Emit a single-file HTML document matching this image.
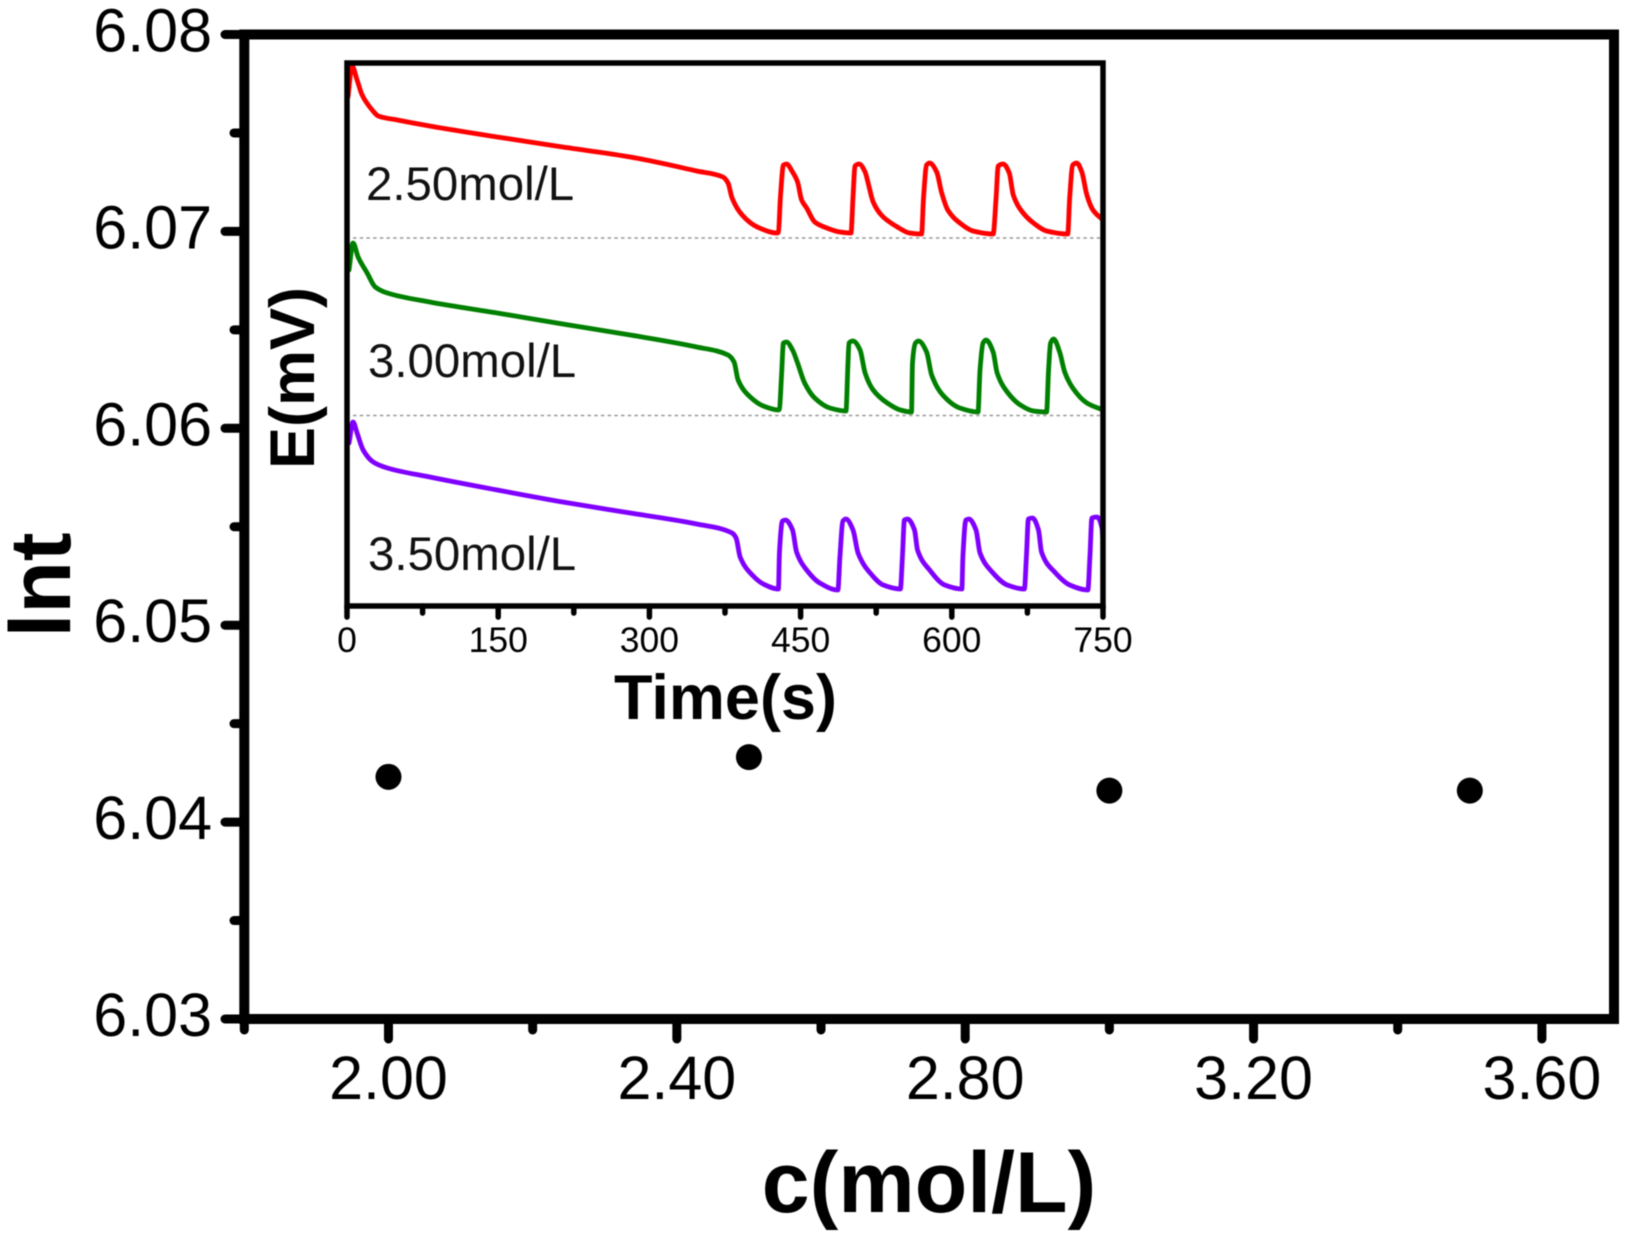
<!DOCTYPE html>
<html lang="en">
<head>
<meta charset="utf-8">
<title>lnt versus concentration with E(mV) inset</title>
<style>
html,body{margin:0;padding:0;background:#fff;}
svg{display:block;filter:blur(0.55px);}
text{font-family:"Liberation Sans",sans-serif;fill:#000;}
.tick-main{font-size:61px;}
.tick-inset{font-size:35.5px;}
.title-bold{font-weight:bold;}
.series-label{font-size:47.4px;fill:#111;}
</style>
</head>
<body>
<svg id="chart" xmlns="http://www.w3.org/2000/svg" width="1637" height="1242" viewBox="0 0 1637 1242">
  <rect x="0" y="0" width="1637" height="1242" fill="#fff"/>
  <g id="main-ticks"></g>
  <rect x="244.3" y="34.5" width="1369.7" height="984.5" fill="none" stroke="#000" stroke-width="10"/>
  <g id="main-points"></g>
  <g id="inset-ticks"></g>
  <g id="inset-lines"></g>
  <rect x="347" y="63" width="756" height="543" fill="none" stroke="#000" stroke-width="5.5"/>
  <line x1="353" y1="238" x2="1100" y2="238" stroke="#999" stroke-width="1.6" stroke-dasharray="3.5 3.2"/>
  <line x1="353" y1="415.5" x2="1100" y2="415.5" stroke="#999" stroke-width="1.6" stroke-dasharray="3.5 3.2"/>
  <text class="series-label" x="366" y="200">2.50mol/L</text>
  <text class="series-label" x="368" y="377">3.00mol/L</text>
  <text class="series-label" x="368" y="570">3.50mol/L</text>
  <text class="title-bold" x="725.5" y="719" font-size="63" text-anchor="middle">Time(s)</text>
  <text class="title-bold" transform="translate(314 378) rotate(-90)" font-size="63" text-anchor="middle">E(mV)</text>
  <text class="title-bold" x="929" y="1212" font-size="86" text-anchor="middle">c(mol/L)</text>
  <text class="title-bold" transform="translate(70 585) rotate(-90)" font-size="86" text-anchor="middle">lnt</text>
</svg>
<script>
// Main chart data
var concentrations = [2.0, 2.5, 3.0, 3.5];
var lntValues = [6.0423, 6.0433, 6.0416, 6.0416];
var mainXMajor = [2.0, 2.4, 2.8, 3.2, 3.6];
var mainXMinor = [1.8, 2.2, 2.6, 3.0, 3.4];
var mainYMajor = [6.03, 6.04, 6.05, 6.06, 6.07, 6.08];
var mainYMinor = [6.035, 6.045, 6.055, 6.065, 6.075];

// Inset data (time in seconds, E in relative mV)
var insetXMajor = [0, 150, 300, 450, 600, 750];
var insetXMinor = [75, 225, 375, 525, 675];
var redTime = [1,5,10,15,25,31,50,82,149,214,281,347,373,378,382,392,407,427,428,430,433,436,442,447,451,456,464,476,489,500,502,504,508,514,517,522,531,546,558,570,572,575,578,585,590,596,608,621,641,644,646,651,657,661,670,681,694,715,717,720,724,729,734,740,750];
var redE = [509,540,526,511,496,490,486,480,469,459,449,435,429,423,408,391,379,373,374,409,441,442,434,424,406,398,384,378,374,373,409,440,442,434,423,404,390,379,373,372,409,441,443,434,413,396,383,375,372,409,440,442,433,411,394,383,375,372,409,441,443,434,411,396,386];
var greenTime = [2,6,11,20,28,40,82,149,214,281,347,378,384,388,400,413,428,429,431,433,436,442,447,454,464,479,495,497,498,502,509,514,522,536,549,560,561,564,567,575,580,591,608,626,628,631,634,641,645,655,668,681,694,696,698,701,707,712,720,734,750];
var greenE = [336,363,349,333,319,313,304,293,282,271,259,251,244,226,209,200,196,197,229,263,264,256,243,223,208,198,195,243,263,265,256,233,216,203,196,194,243,263,265,254,231,211,198,194,236,263,266,254,233,214,201,195,194,236,263,267,254,234,218,203,196];
var purpleTime = [2,6,10,16,26,40,82,149,214,281,347,382,386,390,402,413,428,429,432,435,442,446,456,469,487,489,492,495,502,507,519,532,549,551,553,556,563,566,578,593,610,611,614,617,624,628,640,655,672,674,676,680,686,689,702,717,735,737,739,744,749,750];
var purpleE = [163,184,173,156,144,138,129,116,104,93,82,73,68,49,31,22,17,53,85,86,76,54,36,23,16,49,85,87,76,53,33,21,17,49,86,87,76,56,36,21,17,49,86,87,76,53,34,21,17,49,87,88,76,54,34,21,16,49,88,89,78,66];

var SVG_NS = 'http://www.w3.org/2000/svg';
function xMain(v){ return 244.3 + (v - 1.8) * 1369.7 / 1.9; }
function yMain(v){ return 1019 - (v - 6.03) * 984.5 / 0.05; }
function xInset(t){ return 347 + t * 756 / 750; }
function yInset(e){ return 606 - e; }

function shape(tag, parent, attrs){
  var el = document.createElementNS(SVG_NS, tag);
  for (var k in attrs) el.setAttribute(k, attrs[k]);
  parent.appendChild(el);
  return el;
}
var mainTicks = document.getElementById('main-ticks');
var mainPoints = document.getElementById('main-points');
var insetTicks = document.getElementById('inset-ticks');
var insetLines = document.getElementById('inset-lines');

mainXMajor.forEach(function(v){
  var t = shape('line', mainTicks, {x1:xMain(v), x2:xMain(v), y1:1019, y2:1039, stroke:'#000', 'stroke-width':9, 'stroke-linecap':'round'});
  
  
  var l = shape('text', mainTicks, {x:xMain(v), y:1099, 'text-anchor':'middle', 'class':'tick-main'});
  
  
  l.textContent = v.toFixed(2);
});
mainXMinor.forEach(function(v){
  var t = shape('line', mainTicks, {x1:xMain(v), x2:xMain(v), y1:1019, y2:1030, stroke:'#000', 'stroke-width':9, 'stroke-linecap':'round'});
  
  
});
mainYMajor.forEach(function(v){
  var t = shape('line', mainTicks, {x1:244, x2:225, y1:yMain(v), y2:yMain(v), stroke:'#000', 'stroke-width':9, 'stroke-linecap':'round'});
  
  
  var l = shape('text', mainTicks, {x:212, y:yMain(v) + 17, 'text-anchor':'end', 'class':'tick-main'});
  
  
  l.textContent = v.toFixed(2);
});
mainYMinor.forEach(function(v){
  var t = shape('line', mainTicks, {x1:244, x2:234, y1:yMain(v), y2:yMain(v), stroke:'#000', 'stroke-width':9, 'stroke-linecap':'round'});
  
  
});
concentrations.forEach(function(c, i){
  var p = shape('circle', mainPoints, {cx:xMain(c), cy:yMain(lntValues[i]), r:13, fill:'#000'});
  
  
});
insetXMajor.forEach(function(v){
  var t = shape('line', insetTicks, {x1:xInset(v), x2:xInset(v), y1:606, y2:617, stroke:'#000', 'stroke-width':5.5, 'stroke-linecap':'round'});
  
  
  var l = shape('text', insetTicks, {x:xInset(v), y:652, 'text-anchor':'middle', 'class':'tick-inset'});
  
  
  l.textContent = String(v);
});
insetXMinor.forEach(function(v){
  var t = shape('line', insetTicks, {x1:xInset(v), x2:xInset(v), y1:606, y2:613, stroke:'#000', 'stroke-width':5.5, 'stroke-linecap':'round'});
  
  
});
// Monotone cubic interpolation through the data points (no overshoot at the pulse corners).
function smoothPath(times, values){
  var xs = times.map(xInset), ys = values.map(yInset), n = xs.length, d = [], m = [], i;
  for (i = 0; i < n - 1; i++) d.push((ys[i + 1] - ys[i]) / (xs[i + 1] - xs[i]));
  m[0] = d[0];
  m[n - 1] = d[n - 2];
  for (i = 1; i < n - 1; i++) {
    if (d[i - 1] * d[i] <= 0) { m[i] = 0; continue; }
    var h0 = xs[i] - xs[i - 1], h1 = xs[i + 1] - xs[i], w1 = 2 * h1 + h0, w2 = h1 + 2 * h0;
    m[i] = (w1 + w2) / (w1 / d[i - 1] + w2 / d[i]);
  }
  var path = 'M' + xs[0].toFixed(1) + ' ' + ys[0].toFixed(1);
  for (i = 0; i < n - 1; i++) {
    var h = (xs[i + 1] - xs[i]) / 3;
    path += 'C' + (xs[i] + h).toFixed(2) + ' ' + (ys[i] + m[i] * h).toFixed(2) + ' ' +
      (xs[i + 1] - h).toFixed(2) + ' ' + (ys[i + 1] - m[i + 1] * h).toFixed(2) + ' ' +
      xs[i + 1].toFixed(2) + ' ' + ys[i + 1].toFixed(2);
  }
  return path;
}
var redLine = shape('path', insetLines, {d:smoothPath(redTime, redE), fill:'none', stroke:'#ff0000', 'stroke-width':4.8, 'stroke-linejoin':'round', 'stroke-linecap':'round'});


var greenLine = shape('path', insetLines, {d:smoothPath(greenTime, greenE), fill:'none', stroke:'#008000', 'stroke-width':4.8, 'stroke-linejoin':'round', 'stroke-linecap':'round'});


var purpleLine = shape('path', insetLines, {d:smoothPath(purpleTime, purpleE), fill:'none', stroke:'#8000ff', 'stroke-width':4.8, 'stroke-linejoin':'round', 'stroke-linecap':'round'});


</script>
</body>
</html>
